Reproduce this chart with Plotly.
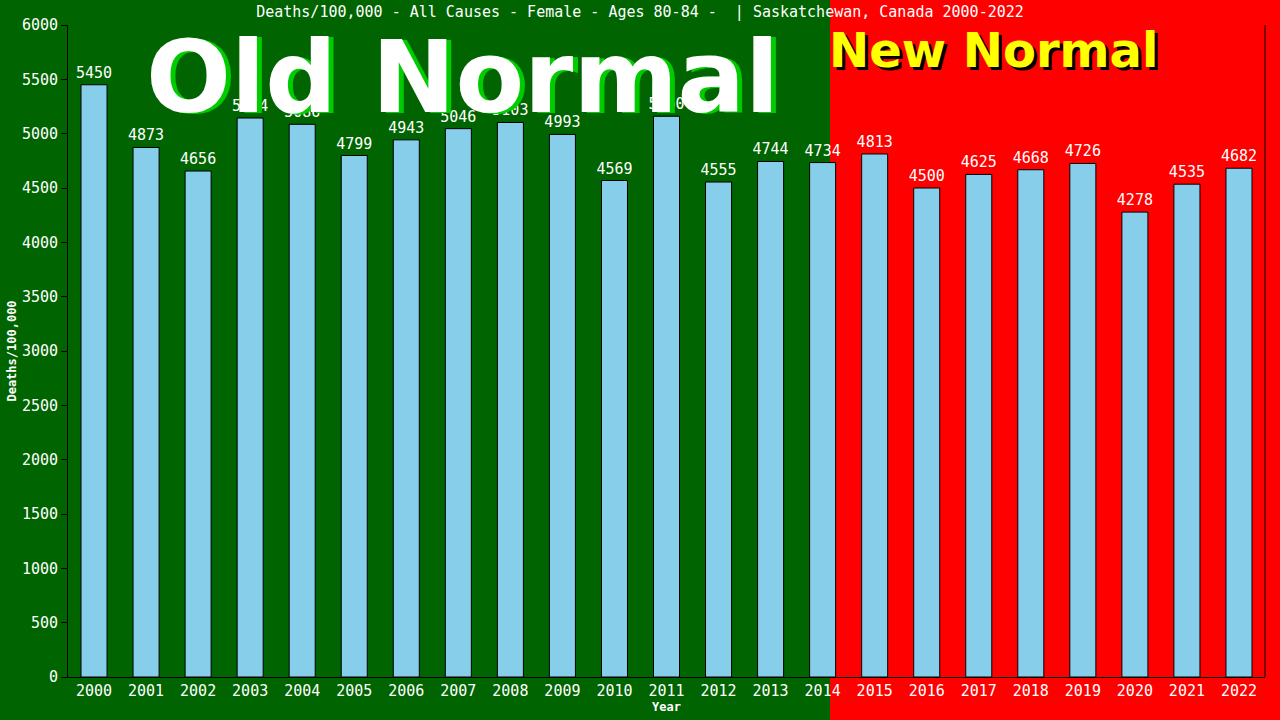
import plotly.graph_objects as go

years = [str(y) for y in range(2000, 2023)]
deaths = [5450, 4873, 4656, 5144, 5086, 4799, 4943, 5046, 5103, 4993, 4569, 5160,
          4555, 4744, 4734, 4813, 4500, 4625, 4668, 4726, 4278, 4535, 4682]
y_ticks = list(range(0, 6001, 500))

title_text = "Deaths/100,000 - All Causes - Female - Ages 80-84 -  | Saskatchewan, Canada 2000-2022"
mono = "DejaVu Sans Mono"

fig = go.Figure()

fig.add_trace(go.Bar(
    x=years,
    y=deaths,
    text=[str(v) for v in deaths],
    textposition="outside",
    constraintext="none",
    textfont=dict(family=mono, size=15, color="white"),
    cliponaxis=False,
    marker=dict(color="#87CEEB", line=dict(color="black", width=1)),
    width=0.5,
    showlegend=False,
))

# red "new normal" region behind the chart
split = (830 - 68) / 1197
fig.add_shape(type="rect", xref="paper", yref="paper", x0=split, x1=1.2, y0=-0.2, y1=1.1,
              fillcolor="#ff0000", line=dict(width=0), layer="below")

# big labels with shadows
old_x = (462 - 68) / 1197
new_x = (993 - 68) / 1197
fig.add_annotation(x=old_x, y=0.92, xref="paper", yref="paper", text="<b>Old Normal</b>",
                   showarrow=False, xshift=5, yshift=-1, xanchor="center", yanchor="middle",
                   font=dict(family="DejaVu Sans", size=100, color="#00cc00"))
fig.add_annotation(x=old_x, y=0.92, xref="paper", yref="paper", text="<b>Old Normal</b>",
                   showarrow=False, xanchor="center", yanchor="middle",
                   font=dict(family="DejaVu Sans", size=100, color="white"))
fig.add_annotation(x=new_x, y=0.962, xref="paper", yref="paper", text="<b>New Normal</b>",
                   showarrow=False, xshift=3, yshift=-3, xanchor="center", yanchor="middle",
                   font=dict(family="DejaVu Sans", size=48, color="black"))
fig.add_annotation(x=new_x, y=0.962, xref="paper", yref="paper", text="<b>New Normal</b>",
                   showarrow=False, xanchor="center", yanchor="middle",
                   font=dict(family="DejaVu Sans", size=48, color="#ffff00"))

fig.update_layout(
    width=1280, height=720,
    margin=dict(l=68, r=15, t=25, b=43),
    paper_bgcolor="#006400",
    plot_bgcolor="rgba(0,0,0,0)",
    title=dict(text=title_text, x=0.5, xanchor="center", y=0.983, yanchor="middle",
               font=dict(family=mono, size=15, color="white")),
    bargap=0.5,
    xaxis=dict(
        title=dict(text="<b>Year</b>", font=dict(family=mono, size=12, color="white"), standoff=2),
        tickfont=dict(family=mono, size=15, color="white"),
        showline=True, linecolor="black", linewidth=1,
        showgrid=False, ticks="", range=[-0.5, 22.5], automargin=False,
    ),
    yaxis=dict(
        title=dict(text="<b>Deaths/100,000</b>", font=dict(family=mono, size=12, color="white"), standoff=2),
        tickfont=dict(family=mono, size=15, color="white"),
        tickvals=y_ticks,
        range=[0, 6000],
        showline=True, linecolor="black", linewidth=1, mirror=False,
        ticks="outside", ticklen=6, tickcolor="black",
        showgrid=False, zeroline=False, automargin=False,
    ),
)

# right border line
fig.add_shape(type="line", xref="paper", yref="paper", x0=1, x1=1, y0=0, y1=1,
              line=dict(color="black", width=1))

fig.write_html("out.html", config={"displayModeBar": False},
               post_script="document.body.style.margin='0';")
